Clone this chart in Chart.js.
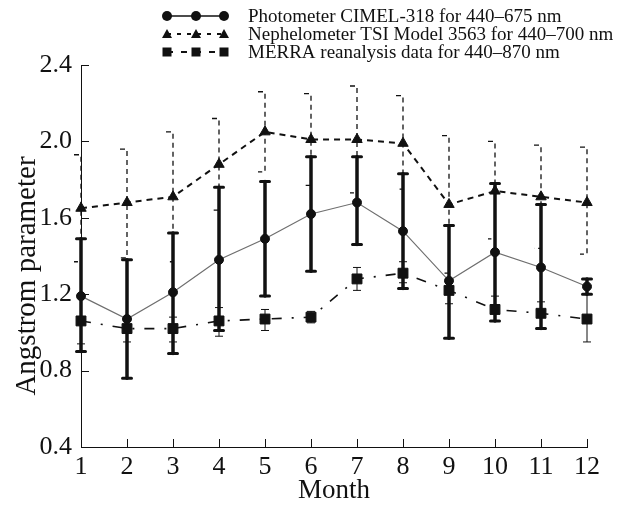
<!DOCTYPE html>
<html>
<head>
<meta charset="utf-8">
<script src="https://cdn.jsdelivr.net/npm/chart.js@4.4.1/dist/chart.umd.min.js"></script>
<style>
  html, body { margin: 0; padding: 0; background: #fff; }
  #wrap { width: 624px; height: 508px; position: relative; }
</style>
</head>
<body>
<div id="wrap"><canvas id="myChart"></canvas></div>
<script>
const months = [1, 2, 3, 4, 5, 6, 7, 8, 9, 10, 11, 12];
const yTicks = [0.4, 0.8, 1.2, 1.6, 2.0, 2.4];

// Photometer CIMEL-318
const photoValues = [1.19, 1.07, 1.21, 1.38, 1.49, 1.62, 1.68, 1.53, 1.27, 1.42, 1.34, 1.24];
const photoHigh   = [1.49, 1.38, 1.52, 1.76, 1.79, 1.92, 1.92, 1.83, 1.56, 1.78, 1.67, 1.28];
const photoLow    = [0.90, 0.76, 0.89, 1.01, 1.19, 1.32, 1.46, 1.23, 0.97, 1.06, 1.02, 1.20];

// Nephelometer TSI 3563
const nephValues = [1.65, 1.68, 1.71, 1.88, 2.05, 2.01, 2.01, 1.99, 1.67, 1.74, 1.71, 1.68];
const nephHigh   = [1.93, 1.96, 2.05, 2.12, 2.26, 2.25, 2.29, 2.24, 2.03, 2.00, 1.98, 1.97];
const nephLow    = [1.37, 1.39, 1.37, 1.64, 1.84, 1.77, 1.73, 1.75, 1.31, 1.49, 1.44, 1.41];

// MERRA reanalysis
const merraValues = [1.06, 1.02, 1.02, 1.06, 1.07, 1.08, 1.28, 1.31, 1.22, 1.12, 1.10, 1.07];
const merraHigh   = [1.18, 1.08, 1.08, 1.13, 1.12, 1.11, 1.34, 1.37, 1.28, 1.19, 1.16, 1.20];
const merraLow    = [0.94, 0.95, 0.95, 0.98, 1.01, 1.05, 1.22, 1.26, 1.15, 1.06, 1.02, 0.95];

const legendLabels = [
    "Photometer CIMEL-318 for 440\u2013675 nm",
    "Nephelometer TSI Model 3563 for 440\u2013700 nm",
    "MERRA reanalysis data for 440\u2013870 nm"
];

const FONT = "'Liberation Serif', 'Times New Roman', serif";
const INK = "#111";

function toPoints(vals) {
    return months.map((m, i) => ({ x: m, y: vals[i] }));
}

// error bars, drawn under the markers
const errorBars = {
    id: "errorBars",
    beforeDatasetsDraw(chart) {
        const { ctx, scales: { x, y } } = chart;
        ctx.save();
        ctx.strokeStyle = INK;

        // nephelometer: dashed with half caps
        ctx.lineWidth = 1.3;
        ctx.setLineDash([5, 4]);
        months.forEach((m, i) => {
            const px = x.getPixelForValue(m);
            const top = y.getPixelForValue(nephHigh[i]);
            const bot = y.getPixelForValue(nephLow[i]);
            ctx.beginPath();
            ctx.moveTo(px - 7, top);
            ctx.lineTo(px, top);
            ctx.lineTo(px, bot);
            ctx.lineTo(px - 7, bot);
            ctx.stroke();
        });
        ctx.setLineDash([]);

        // merra: thin
        ctx.lineWidth = 1;
        months.forEach((m, i) => {
            const px = x.getPixelForValue(m);
            const top = y.getPixelForValue(merraHigh[i]);
            const bot = y.getPixelForValue(merraLow[i]);
            ctx.beginPath();
            ctx.moveTo(px, top); ctx.lineTo(px, bot);
            ctx.moveTo(px - 4, top); ctx.lineTo(px + 4, top);
            ctx.moveTo(px - 4, bot); ctx.lineTo(px + 4, bot);
            ctx.stroke();
        });

        // photometer: thick
        ctx.lineCap = "round";
        months.forEach((m, i) => {
            const px = x.getPixelForValue(m);
            const top = y.getPixelForValue(photoHigh[i]);
            const bot = y.getPixelForValue(photoLow[i]);
            ctx.lineWidth = 3.5;
            ctx.beginPath();
            ctx.moveTo(px, top); ctx.lineTo(px, bot);
            ctx.stroke();
            ctx.lineWidth = 3;
            ctx.beginPath();
            ctx.moveTo(px - 4.5, top); ctx.lineTo(px + 4.5, top);
            ctx.moveTo(px - 4.5, bot); ctx.lineTo(px + 4.5, bot);
            ctx.stroke();
        });
        ctx.restore();
    }
};

// inward ticks, y title and legend
const decorations = {
    id: "decorations",
    afterDraw(chart) {
        const { ctx, scales: { x, y }, chartArea } = chart;
        ctx.save();
        ctx.strokeStyle = INK;
        ctx.lineWidth = 1;
        ctx.beginPath();
        yTicks.forEach(v => {
            const py = Math.round(y.getPixelForValue(v)) + 0.5;
            ctx.moveTo(chartArea.left, py);
            ctx.lineTo(chartArea.left + 8, py);
        });
        months.forEach(m => {
            const px = Math.round(x.getPixelForValue(m)) + 0.5;
            ctx.moveTo(px, chartArea.bottom);
            ctx.lineTo(px, chartArea.bottom - 8);
        });
        ctx.stroke();

        // y axis title
        ctx.fillStyle = INK;
        ctx.font = "29px " + FONT;
        ctx.textAlign = "center";
        ctx.textBaseline = "middle";
        ctx.save();
        ctx.translate(27, 276);
        ctx.rotate(-Math.PI / 2);
        ctx.fillText("Angstrom parameter", 0, 0);
        ctx.restore();

        // legend
        const rowsY = [16, 34, 52];
        const mx = [167, 196, 224];
        ctx.font = "19px " + FONT;
        ctx.textAlign = "left";
        legendLabels.forEach((txt, r) => {
            const ry = rowsY[r];
            ctx.lineWidth = r === 0 ? 1.5 : 2;
            if (r === 0) ctx.setLineDash([]);
            else if (r === 1) ctx.setLineDash([4, 6]);
            else ctx.setLineDash([6, 8]);
            ctx.beginPath();
            ctx.moveTo(mx[0], ry);
            ctx.lineTo(mx[2], ry);
            ctx.stroke();
            ctx.setLineDash([]);
            mx.forEach(px => {
                ctx.beginPath();
                if (r === 0) {
                    ctx.arc(px, ry, 5, 0, Math.PI * 2);
                } else if (r === 1) {
                    ctx.moveTo(px, ry - 5);
                    ctx.lineTo(px + 5, ry + 4);
                    ctx.lineTo(px - 5, ry + 4);
                    ctx.closePath();
                } else {
                    ctx.rect(px - 4.5, ry - 4.5, 9, 9);
                }
                ctx.fill();
            });
            ctx.fillText(txt, 248, ry + 1);
        });
        ctx.restore();
    }
};

new Chart(document.getElementById("myChart"), {
    type: "line",
    data: {
        datasets: [
            {
                label: legendLabels[0],
                data: toPoints(photoValues),
                clip: false,
                borderColor: "#6e6e6e",
                borderWidth: 1.2,
                pointStyle: "circle",
                pointRadius: 4.5,
                pointBackgroundColor: INK,
                pointBorderColor: INK,
                pointBorderWidth: 1
            },
            {
                label: legendLabels[1],
                data: toPoints(nephValues),
                clip: false,
                borderColor: INK,
                borderWidth: 2,
                borderDash: [6, 5],
                pointStyle: "triangle",
                pointRadius: 6,
                pointBackgroundColor: INK,
                pointBorderColor: INK,
                pointBorderWidth: 1
            },
            {
                label: legendLabels[2],
                data: toPoints(merraValues),
                clip: false,
                borderColor: INK,
                borderWidth: 1.6,
                borderDash: [10, 10, 2, 10],
                pointStyle: "rect",
                pointRadius: 7,
                pointBackgroundColor: INK,
                pointBorderColor: INK,
                pointBorderWidth: 1
            }
        ]
    },
    options: {
        responsive: true,
        maintainAspectRatio: false,
        animation: false,
        layout: { padding: { left: 0, right: 37, top: 65, bottom: 0 } },
        plugins: {
            legend: { display: false },
            tooltip: { enabled: false }
        },
        scales: {
            x: {
                type: "linear",
                min: 1,
                max: 12,
                afterFit(scale) { scale.height = 61; },
                afterBuildTicks(scale) { scale.ticks = months.map(v => ({ value: v })); },
                grid: { display: false, drawTicks: false },
                border: { display: true, color: INK, width: 1 },
                ticks: { color: INK, font: { family: FONT, size: 26 }, padding: 5, maxRotation: 0, autoSkip: false },
                title: { display: true, text: "Month", color: INK, font: { family: FONT, size: 27 }, padding: { top: 0, bottom: 1 } }
            },
            y: {
                min: 0.4,
                max: 2.4,
                afterFit(scale) { scale.width = 81; },
                afterBuildTicks(scale) { scale.ticks = yTicks.map(v => ({ value: v })); },
                grid: { display: false, drawTicks: false },
                border: { display: true, color: INK, width: 1 },
                ticks: { color: INK, font: { family: FONT, size: 26 }, padding: 9, callback: v => v.toFixed(1) }
            }
        }
    },
    plugins: [errorBars, decorations]
});
</script>
</body>
</html>
